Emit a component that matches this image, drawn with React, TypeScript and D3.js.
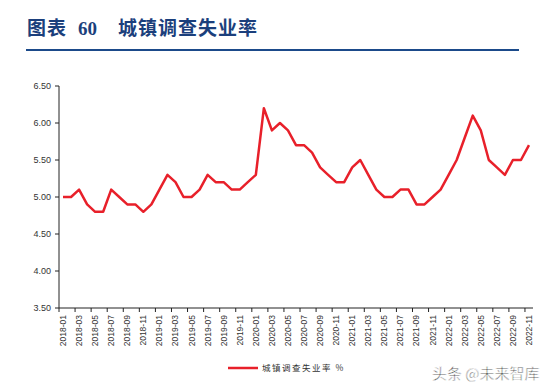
import React from "react";
import * as d3 from "d3";

// 城镇调查失业率 (%), monthly 2018-01 .. 2022-11
const rate2018 = [5.0, 5.0, 5.1, 4.9, 4.8, 4.8, 5.1, 5.0, 4.9, 4.9, 4.8, 4.9];
const rate2019 = [5.1, 5.3, 5.2, 5.0, 5.0, 5.1, 5.3, 5.2, 5.2, 5.1, 5.1, 5.2];
const rate2020 = [5.3, 6.2, 5.9, 6.0, 5.9, 5.7, 5.7, 5.6, 5.4, 5.3, 5.2, 5.2];
const rate2021 = [5.4, 5.5, 5.3, 5.1, 5.0, 5.0, 5.1, 5.1, 4.9, 4.9, 5.0, 5.1];
const rate2022 = [5.3, 5.5, 5.8, 6.1, 5.9, 5.5, 5.4, 5.3, 5.5, 5.5, 5.7];

const years = [2018, 2019, 2020, 2021, 2022];
const yTicks = [3.5, 4.0, 4.5, 5.0, 5.5, 6.0, 6.5];

const values = [...rate2018, ...rate2019, ...rate2020, ...rate2021, ...rate2022];
const months: string[] = [];
years.forEach((y) => {
  for (let m = 1; m <= 12; m++) months.push(`${y}-${String(m).padStart(2, "0")}`);
});
months.length = values.length;

const W = 544;
const H = 391;
const left = 59;
const right = 533;
const top = 86;
const bottom = 308;

const App: React.FC = () => {
  const x = d3.scaleBand<string>().domain(months).range([left, right]).padding(0);
  const y = d3.scaleLinear().domain([3.5, 6.5]).range([bottom, top]);
  const bw = x.bandwidth();

  const line = d3
    .line<number>()
    .x((d, i) => (x(months[i]) ?? 0) + bw / 2)
    .y((d) => y(d));

  const sans = "'Liberation Sans', Arial, sans-serif";

  return (
    <svg
      width={W}
      height={H}
      style={{ position: "absolute", left: 0, top: 0, background: "#fff" }}
    >
      {/* title */}
      <text y={35} fill="#1b3f7c" fontWeight="bold" fontSize={19}>
        <tspan x={27} fontFamily="'Noto Sans CJK SC'" letterSpacing={1}>图表</tspan>
        <tspan x={78} fontFamily="'Liberation Serif'">60</tspan>
        <tspan x={118} fontFamily="'Noto Sans CJK SC'" letterSpacing={1}>城镇调查失业率</tspan>
      </text>
      <line x1={26} x2={519} y1={50} y2={50} stroke="#1b4a8a" strokeWidth={2} />

      {/* y axis */}
      <line x1={left} x2={left} y1={top} y2={bottom} stroke="#222" strokeWidth={1} />
      {yTicks.map((t) => (
        <g key={t}>
          <line x1={left - 4} x2={left} y1={y(t)} y2={y(t)} stroke="#222" />
          <text
            x={left - 8}
            y={y(t)}
            dy="0.35em"
            textAnchor="end"
            fontFamily={sans}
            fontSize={9}
            fill="#333"
          >
            {t.toFixed(2)}
          </text>
        </g>
      ))}

      {/* x axis */}
      <line x1={left} x2={right} y1={bottom} y2={bottom} stroke="#222" strokeWidth={1} />
      {months.map((m, i) =>
        i % 2 === 0 ? (
          <g key={m}>
            <line
              x1={x(m)!}
              x2={x(m)!}
              y1={bottom}
              y2={bottom + 4}
              stroke="#222"
            />
            <text
              transform={`translate(${x(m)! + bw / 2},${bottom + 7}) rotate(-90)`}
              dy="0.35em"
              textAnchor="end"
              fontFamily={sans}
              fontSize={8.5}
              fill="#333"
            >
              {m}
            </text>
          </g>
        ) : null
      )}

      {/* series */}
      <path
        d={line(values) ?? ""}
        fill="none"
        stroke="#e8202a"
        strokeWidth={2.5}
        strokeLinejoin="round"
      />

      {/* legend */}
      <line x1={228} x2={258} y1={368} y2={368} stroke="#e8202a" strokeWidth={2.5} />
      <text
        x={262}
        y={368}
        dy="0.35em"
        fontFamily="'Noto Sans CJK SC'"
        fontSize={8.5}
        letterSpacing={1.5}
        fill="#333"
      >
        城镇调查失业率 %
      </text>

      {/* watermark */}
      <text
        x={432}
        y={379}
        fontFamily="'Noto Sans CJK SC'"
        fontSize={15}
        fill="#333"
        stroke="#fff"
        strokeWidth={0.6}
      >
        头条 @未来智库
      </text>
    </svg>
  );
};

export default App;
